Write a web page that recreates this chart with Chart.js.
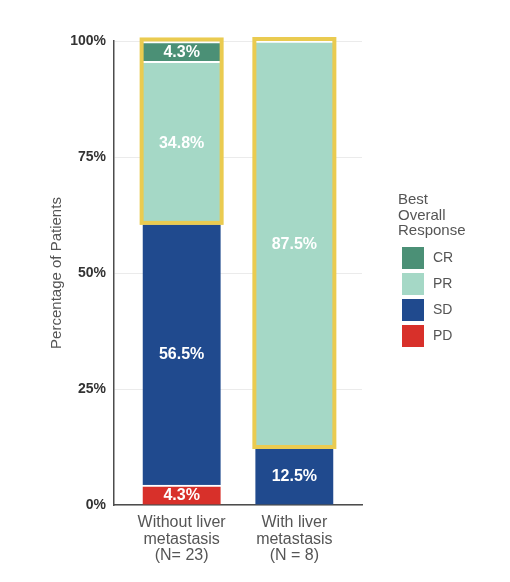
<!DOCTYPE html>
<html>
<head>
<meta charset="utf-8">
<script src="https://cdn.jsdelivr.net/npm/chart.js@4/dist/chart.umd.min.js"></script>
<style>
  html, body { margin: 0; padding: 0; background: #fff; }
  canvas { display: block; }
</style>
</head>
<body>
<canvas id="responseChart" width="510" height="582"></canvas>
<script>
// Data
const categories = [
    ['Without liver', 'metastasis', '(N= 23)'],
    ['With liver', 'metastasis', '(N = 8)']
];
const pdValues = [4.3, 0];
const sdValues = [56.5, 12.5];
const prValues = [34.8, 87.5];
const crValues = [4.3, 0];
const yTicks = [0, 25, 50, 75, 100];
const legendTitle = ['Best', 'Overall', 'Response'];

const FONT = '"Liberation Sans", Arial, sans-serif';
const colors = { CR: '#4b9076', PR: '#a5d8c6', SD: '#204a8e', PD: '#d8302a' };

// bars sit at x = 1, 2 on a linear axis so the ggplot style spacing can be matched
function toPoints(values) {
    return values.map((v, i) => ({ x: i + 1, y: v })).filter(p => p.y > 0);
}

function makeDataset(label, values) {
    return {
        label: label,
        data: toPoints(values),
        backgroundColor: colors[label],
        borderColor: '#ffffff',
        borderWidth: { top: 2, left: 0, right: 0, bottom: 0 },
        borderSkipped: false,
        barThickness: 78
    };
}

// Yellow box around the responders (PR + CR) of each bar
const highlightPlugin = {
    id: 'highlight',
    afterDatasetsDraw(chart) {
        const ctx = chart.ctx;
        const boxes = {};
        chart.data.datasets.forEach((ds, di) => {
            if (ds.label !== 'PR' && ds.label !== 'CR') return;
            chart.getDatasetMeta(di).data.forEach((el, i) => {
                const key = ds.data[i].x;
                const b = boxes[key] || { left: Infinity, right: -Infinity, top: Infinity, bottom: -Infinity };
                b.left = Math.min(b.left, el.x - el.width / 2);
                b.right = Math.max(b.right, el.x + el.width / 2);
                b.top = Math.min(b.top, el.y);
                b.bottom = Math.max(b.bottom, el.base);
                boxes[key] = b;
            });
        });
        ctx.save();
        ctx.strokeStyle = '#eacb50';
        ctx.lineWidth = 4;
        Object.values(boxes).forEach(b => {
            ctx.strokeRect(b.left - 1, b.top - 2, b.right - b.left + 2, b.bottom - b.top + 2);
        });
        ctx.restore();
    }
};

// Percent labels in the middle of each segment, plus axis title and legend
const labelPlugin = {
    id: 'segmentLabels',
    afterDraw(chart) {
        const ctx = chart.ctx;
        ctx.save();
        ctx.font = 'bold 16px ' + FONT;
        ctx.fillStyle = '#ffffff';
        ctx.textAlign = 'center';
        ctx.textBaseline = 'middle';
        chart.data.datasets.forEach((ds, di) => {
            chart.getDatasetMeta(di).data.forEach((el, i) => {
                const v = ds.data[i].y;
                ctx.fillText(v.toFixed(1) + '%', el.x, (el.y + el.base) / 2 + 1);
            });
        });

        // y axis title
        ctx.save();
        ctx.translate(57, 273);
        ctx.rotate(-Math.PI / 2);
        ctx.font = '15px ' + FONT;
        ctx.fillStyle = '#555555';
        ctx.fillText('Percentage of Patients', 0, 0);
        ctx.restore();

        // legend
        ctx.textAlign = 'left';
        ctx.font = '15px ' + FONT;
        ctx.fillStyle = '#555555';
        legendTitle.forEach((line, i) => {
            ctx.fillText(line, 398, 200 + i * 15.5);
        });
        const order = chart.data.datasets.slice().reverse();
        ctx.font = '14px ' + FONT;
        order.forEach((ds, i) => {
            const y = 247 + i * 26;
            ctx.fillStyle = ds.backgroundColor;
            ctx.fillRect(402, y, 22, 22);
            ctx.fillStyle = '#555555';
            ctx.fillText(ds.label, 433, y + 11);
        });
        ctx.restore();
    }
};

document.addEventListener('DOMContentLoaded', function() {
    const chartCtx = document.getElementById('responseChart').getContext('2d');
    new Chart(chartCtx, {
        type: 'bar',
        data: {
            datasets: [
                makeDataset('PD', pdValues),
                makeDataset('SD', sdValues),
                makeDataset('PR', prValues),
                makeDataset('CR', crValues)
            ]
        },
        options: {
            responsive: false,
            animation: false,
            layout: { padding: { left: 40, right: 148, top: 41, bottom: 0 } },
            plugins: {
                legend: { display: false },
                tooltip: { enabled: false }
            },
            scales: {
                x: {
                    type: 'linear',
                    stacked: true,
                    offset: false,
                    min: 0.4,
                    max: 2.6,
                    afterBuildTicks: scale => {
                        scale.ticks = categories.map((c, i) => ({ value: i + 1 }));
                    },
                    afterFit: scale => { scale.height = 77; },
                    grid: { display: false, drawTicks: false, offset: false },
                    border: { display: true, color: '#4d4d4d', width: 1.5 },
                    ticks: {
                        autoSkip: false,
                        maxRotation: 0,
                        padding: 9,
                        color: '#555555',
                        font: { family: FONT, size: 16, lineHeight: 1.05 },
                        callback: value => categories[value - 1]
                    }
                },
                y: {
                    stacked: true,
                    min: 0,
                    max: 100,
                    afterBuildTicks: scale => {
                        scale.ticks = yTicks.map(v => ({ value: v }));
                    },
                    afterFit: scale => { scale.width = 74; },
                    grid: { color: '#ebebeb', drawTicks: false },
                    border: { display: true, color: '#4d4d4d', width: 1.5 },
                    ticks: {
                        padding: 8,
                        color: '#333333',
                        font: { family: FONT, size: 14, weight: 'bold' },
                        callback: value => value + '%'
                    }
                }
            }
        },
        plugins: [highlightPlugin, labelPlugin]
    });
});
</script>
</body>
</html>
